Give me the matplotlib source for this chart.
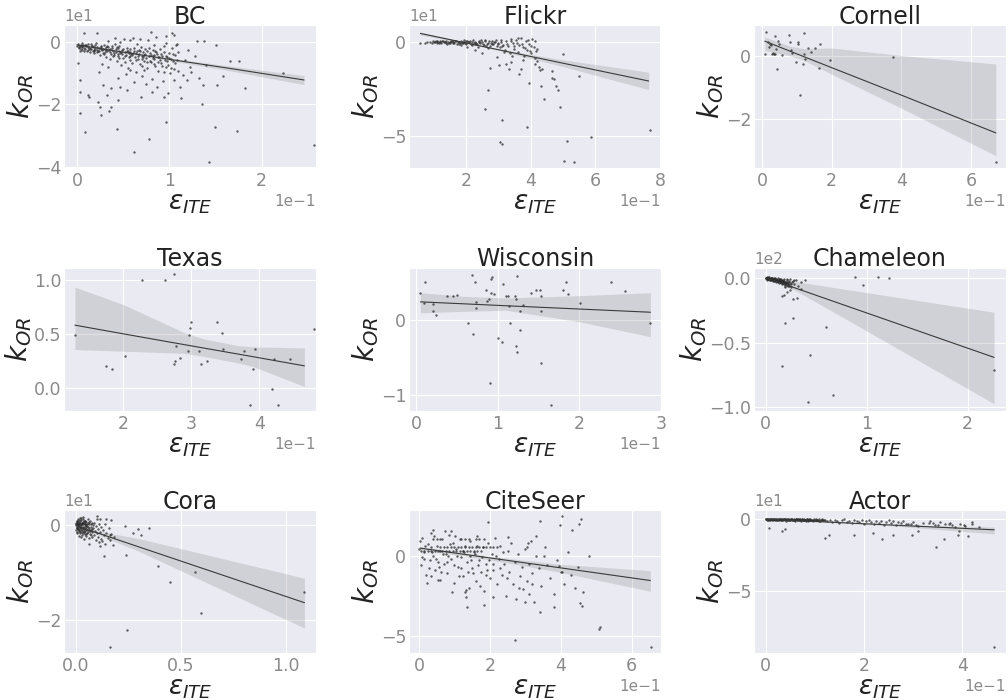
import numpy as np
import matplotlib
matplotlib.use("Agg")
import matplotlib.pyplot as plt
import seaborn as sns

sns.set_style("darkgrid")
plt.rcParams['font.family'] = ['DejaVu Sans']
plt.rcParams['mathtext.fontset'] = 'dejavusans'

names = ["BC", "Flickr", "Cornell", "Texas", "Wisconsin", "Chameleon",
         "Cora", "CiteSeer", "Actor"]

# ---- scatter points (eps_ITE, k_OR) ----
bc_pts = [
    (0.000,-1.2),(0.001,-0.6),(0.002,-2.1),(0.003,-1.5),(0.004,-0.9),(0.005,-2.6),(0.006,-1.8),(0.007,-1.1),(0.008,-3.0),(0.009,-2.2),
    (0.010,-1.4),(0.011,-2.8),(0.012,-0.8),(0.013,-1.9),(0.014,-3.3),(0.015,-2.4),(0.016,-1.2),(0.017,-2.9),(0.018,-1.7),(0.019,-3.6),
    (0.020,-2.3),(0.021,-0.5),(0.022,-1.6),(0.023,-3.1),(0.024,-2.0),(0.025,-4.2),(0.026,-1.3),(0.027,-2.7),(0.028,-3.5),(0.029,-0.9),
    (0.030,-2.2),(0.031,-4.8),(0.032,-1.8),(0.033,-3.0),(0.034,0.3),(0.035,-2.6),(0.036,-5.5),(0.037,-3.8),(0.038,-1.5),(0.039,-2.9),
    (0.040,-4.1),(0.041,-0.7),(0.042,-3.3),(0.043,-6.2),(0.044,-2.1),(0.045,-4.6),(0.046,-1.2),(0.047,-3.7),(0.048,-7.4),(0.049,-2.6),
    (0.050,-5.1),(0.051,0.8),(0.052,-3.2),(0.053,-4.3),(0.054,-1.9),(0.055,-8.3),(0.056,-3.6),(0.057,-5.8),(0.058,-2.4),(0.059,-4.0),
    (0.060,-6.7),(0.061,1.2),(0.062,-3.1),(0.063,-4.9),(0.064,-9.6),(0.065,-2.8),(0.066,-5.4),(0.067,-3.9),(0.068,-7.1),(0.069,-1.6),
    (0.070,-4.4),(0.071,-10.8),(0.072,-3.3),(0.073,-6.0),(0.074,-2.2),(0.075,-5.2),(0.076,-8.5),(0.077,0.5),(0.078,-4.7),(0.079,-3.5),
    (0.080,-6.4),(0.081,-11.9),(0.082,-2.7),(0.083,-5.6),(0.084,-4.1),(0.085,-7.8),(0.086,1.6),(0.087,-3.8),(0.088,-9.2),(0.089,-5.0),
    (0.090,-2.4),(0.091,-6.9),(0.092,-4.5),(0.093,-12.6),(0.094,-3.2),(0.095,-5.9),(0.096,-8.1),(0.097,-0.3),(0.098,-4.8),(0.099,-7.3),
    (0.100,-3.6),(0.101,-10.1),(0.102,-5.4),(0.103,-2.0),(0.104,-6.2),(0.105,-8.8),(0.106,-4.3),(0.107,-1.1),(0.108,-5.7),(0.110,-3.4),
    (0.003,-2.8),(0.006,-0.4),(0.009,-1.0),(0.012,-2.5),(0.015,-0.7),(0.018,-2.6),(0.022,-3.4),(0.026,-2.2),(0.029,-4.0),(0.033,-1.4),
    (0.036,-2.3),(0.039,-4.4),(0.043,-1.8),(0.046,-5.3),(0.049,-3.9),(0.052,-6.5),(0.055,-2.9),(0.058,-4.7),(0.061,-3.6),(0.064,-5.8),
    (0.067,-2.5),(0.070,-7.6),(0.073,-4.2),(0.076,-2.9),(0.079,-6.1),(0.082,-4.6),(0.085,-3.0),(0.088,-6.6),(0.091,-4.0),(0.094,-9.8),
    (0.044,-11.5),(0.053,-10.2),(0.062,-12.9),(0.075,-13.6),(0.058,-8.9),(0.034,-8.2),(0.027,-7.1),(0.068,0.9),(0.041,1.1),(0.096,2.0),
    (0.002,-1.6),(0.004,-2.3),(0.006,-1.3),(0.008,-2.0),(0.010,-0.9),(0.012,-1.7),(0.014,-2.2),(0.016,-1.5),(0.018,-3.1),(0.020,-1.1),
    (0.022,-2.5),(0.024,-3.0),(0.026,-1.8),(0.028,-2.4),(0.030,-3.4),(0.032,-2.7),(0.034,-1.6),(0.036,-3.2),(0.038,-2.1),(0.040,-3.6),
    (0.042,-2.4),(0.044,-4.0),(0.046,-2.9),(0.048,-3.4),(0.050,-2.2),(0.052,-4.4),(0.054,-3.1),(0.056,-5.0),(0.058,-3.3),(0.060,-4.1),
    (0.062,-2.0),(0.064,-3.7),(0.066,-4.6),(0.068,-3.0),(0.070,-5.6),(0.072,-4.8),(0.074,-3.9),(0.076,-6.5),(0.078,-2.1),(0.080,-4.3),
    (0.082,-5.1),(0.084,-7.0),(0.086,-3.4),(0.088,-4.9),(0.090,-5.8),(0.092,-7.6),(0.094,-1.5),(0.096,-4.6),(0.098,-6.0),(0.100,-5.2),
    (0.102,-8.3),(0.104,-3.9),(0.106,-6.8),(0.108,-0.8),(0.109,-9.4),(0.047,-0.2),(0.057,0.6),(0.065,-0.6),(0.083,-0.9),(0.073,-8.9),
    (0.001,-6.9),(0.003,-12.2),(0.003,-16.0),(0.003,-22.9),(0.009,-28.9),(0.012,-17.0),(0.013,-17.5),(0.023,-19.1),(0.025,-20.7),
    (0.026,-23.4),(0.028,-13.8),(0.024,-9.6),(0.035,-22.1),(0.037,-20.7),(0.043,-27.9),(0.045,-18.6),(0.062,-35.1),(0.078,-31.1),
    (0.097,-25.5),(0.113,-17.9),(0.135,-19.9),(0.137,-13.8),(0.150,-27.1),(0.143,-38.5),(0.152,-13.8),(0.173,-28.4),(0.182,-14.9),
    (0.166,-6.2),(0.176,-6.2),(0.151,-1.1),(0.138,0.3),(0.130,0.3),(0.158,-11.0),(0.223,-9.9),(0.257,-33.0),(0.105,2.1),(0.103,2.7),
    (0.080,3.2),(0.022,2.7),(0.008,2.7),(0.117,-5.9),(0.123,-8.0),(0.124,-9.6),(0.119,-12.2),(0.105,-12.2),(0.112,-14.4),(0.099,-16.5),
    (0.094,-17.6),(0.087,-14.4),(0.081,-16.0),(0.069,-17.6),(0.054,-15.4),(0.047,-14.4),(0.037,-14.9),(0.033,-17.0),(0.128,-4.5),
    (0.140,-7.5),(0.120,-2.5),(0.115,-10.5),(0.132,-11.6),
]
flickr_pts = [
    (0.100,0.2),(0.105,-0.3),(0.110,0.4),(0.115,-0.1),(0.120,0.0),(0.125,-0.5),(0.130,0.3),(0.135,-0.2),(0.140,-0.6),(0.145,0.1),
    (0.150,-0.4),(0.155,0.5),(0.160,-0.2),(0.165,-0.8),(0.170,0.2),(0.175,-0.3),(0.180,-1.0),(0.185,0.3),(0.190,-0.5),(0.195,-0.1),
    (0.200,-0.9),(0.205,0.4),(0.210,-0.3),(0.215,-1.2),(0.220,0.1),(0.225,-0.6),(0.230,-0.2),(0.235,-1.4),(0.240,0.5),(0.245,-0.7),
    (0.250,-0.1),(0.255,-1.6),(0.260,0.2),(0.265,-0.9),(0.270,-0.4),(0.275,-2.0),(0.280,0.6),(0.285,-1.1),(0.290,-0.3),(0.295,-2.4),
    (0.112,-0.8),(0.128,0.6),(0.142,-1.1),(0.158,0.2),(0.172,-1.4),(0.188,-0.4),(0.202,0.7),(0.218,-1.8),(0.232,-0.4),(0.248,0.8),
    (0.262,-2.2),(0.278,-0.8),(0.292,0.9),(0.205,-2.5),(0.185,-1.9),(0.238,-2.8),(0.268,-3.2),(0.195,0.8),(0.222,1.0),(0.258,1.2),
    (0.102,-0.1),(0.108,0.3),(0.118,-0.4),(0.122,0.5),(0.132,-0.3),(0.138,0.2),(0.148,-0.5),(0.152,0.0),(0.162,-0.6),(0.168,0.4),
    (0.178,-0.2),(0.182,-0.7),(0.192,0.1),(0.198,-0.6),(0.208,-0.2),(0.212,0.3),(0.228,-0.9),(0.242,-0.3),(0.252,-1.0),(0.272,0.3),
    (0.282,-1.4),(0.288,0.1),(0.298,-1.0),(0.308,-0.2),(0.312,-2.0),(0.328,-1.0),(0.338,0.6),(0.348,-2.4),(0.358,-0.8),(0.372,-1.0),
    (0.382,-3.5),(0.392,0.8),(0.402,-2.0),(0.412,0.3),(0.418,-5.0),(0.080,-0.2),(0.090,0.1),(0.095,-0.4),
    (0.300,-0.5),(0.305,-3.0),(0.310,1.2),(0.315,-1.5),(0.320,-4.2),(0.325,0.4),(0.330,-2.2),(0.335,-6.0),(0.340,1.6),(0.345,-0.8),
    (0.350,-3.6),(0.355,0.9),(0.360,-5.2),(0.365,-1.7),(0.370,2.0),(0.375,-2.9),(0.380,-7.4),(0.385,0.2),(0.390,-4.3),(0.395,-1.1),
    (0.400,-6.1),(0.405,1.4),(0.410,-2.6),(0.415,-8.8),(0.420,-3.8),(0.362,2.2),(0.378,-9.5),(0.398,-4.8),(0.342,-7.8),(0.318,-5.5),
    (0.060,-0.5),(0.075,-0.5),(0.500,-6.6),(0.549,-18.4),(0.275,-13.9),(0.269,-25.9),(0.259,-35.7),(0.313,-41.6),(0.306,-53.6),
    (0.313,-54.5),(0.390,-45.5),(0.395,-21.8),(0.431,-23.6),(0.441,-30.4),(0.477,-23.8),(0.485,-25.5),(0.467,-19.1),(0.472,-20.0),
    (0.466,-15.5),(0.492,-34.8),(0.503,-63.4),(0.535,-64.3),(0.513,-52.7),(0.585,-50.9),(0.767,-47.3),(0.426,-13.4),(0.428,-15.2),
    (0.436,-14.3),(0.415,-11.6),(0.420,-10.4),(0.323,-11.6),(0.338,-10.7),(0.333,-14.3),(0.369,-14.3),(0.303,-12.1),(0.297,-8.0),
    (0.364,-17.0),(0.230,-4.5),(0.250,-6.0),
]
cornell_pts = [
    (0.008,0.09),(0.012,0.78),(0.017,0.46),(0.020,0.30),(0.024,0.41),(0.027,0.35),(0.030,0.09),(0.032,0.10),(0.034,0.09),
    (0.038,0.09),(0.037,0.67),(0.041,0.25),(0.046,0.51),(0.044,-0.40),(0.050,0.41),(0.056,0.06),(0.077,0.70),(0.080,0.46),
    (0.083,0.19),(0.085,0.10),(0.097,-0.18),(0.102,0.46),(0.102,0.39),(0.109,-1.22),(0.120,0.75),(0.118,-0.24),(0.123,-0.07),
    (0.133,0.28),(0.140,0.14),(0.152,0.28),(0.164,-0.37),(0.166,0.39),(0.195,-0.13),(0.121,0.09),(0.376,-0.02),(0.671,-3.39),
]
texas_pts = [
    (0.129,0.49),(0.174,0.20),(0.184,0.175),(0.203,0.30),(0.228,1.00),(0.261,1.00),(0.274,1.05),(0.274,0.225),(0.276,0.25),
    (0.278,0.39),(0.284,0.28),(0.295,0.345),(0.297,0.49),(0.298,0.55),(0.299,0.61),(0.311,0.345),(0.314,0.225),(0.323,0.25),
    (0.338,0.61),(0.345,0.51),(0.347,0.36),(0.373,0.27),(0.377,0.345),(0.390,0.175),(0.393,0.36),(0.386,-0.155),(0.419,-0.005),
    (0.422,0.27),(0.427,-0.155),(0.445,0.27),(0.480,0.545),
]
wisconsin_pts = [
    (0.005,0.36),(0.009,0.23),(0.011,0.52),(0.020,0.22),(0.020,0.13),(0.024,0.07),(0.037,0.33),(0.045,0.33),(0.050,0.34),
    (0.063,-0.03),(0.068,0.61),(0.070,-0.18),(0.072,0.52),(0.073,0.24),(0.073,0.16),(0.086,0.40),(0.087,0.26),(0.089,0.28),
    (0.090,-0.84),(0.091,0.36),(0.091,0.55),(0.093,0.58),(0.095,0.35),(0.100,-0.24),(0.105,-0.29),(0.106,0.49),(0.110,0.33),
    (0.113,0.33),(0.114,0.19),(0.115,-0.03),(0.121,0.33),(0.122,0.28),(0.122,-0.34),(0.123,0.59),(0.124,-0.43),(0.127,-0.13),
    (0.127,0.12),(0.131,0.21),(0.140,0.37),(0.147,0.40),(0.152,0.40),(0.153,0.32),(0.153,0.12),(0.153,-0.57),(0.165,-1.13),
    (0.180,0.40),(0.183,0.52),(0.186,0.35),(0.201,0.23),(0.239,0.52),(0.256,0.39),(0.287,-0.04),
]
chameleon_pts = [
    (0.005,0.0),(0.010,-0.5),(0.015,0.3),(0.020,-0.8),(0.025,-0.2),(0.030,-1.0),(0.035,0.1),(0.040,-0.6),(0.045,-1.3),(0.050,-0.3),
    (0.055,-0.9),(0.060,-1.6),(0.065,-0.4),(0.070,-1.2),(0.075,-2.0),(0.080,-0.7),(0.085,-1.5),(0.090,-2.4),(0.095,-1.0),(0.100,-1.8),
    (0.105,-0.5),(0.110,-2.7),(0.115,-1.3),(0.120,-2.1),(0.125,-3.2),(0.130,-1.6),(0.135,-2.5),(0.140,-0.9),(0.145,-3.5),(0.150,-1.9),
    (0.155,-2.8),(0.160,-4.0),(0.165,-2.2),(0.170,-3.1),(0.175,-1.4),(0.180,-4.4),(0.185,-2.6),(0.190,-3.6),(0.195,-5.0),(0.200,-2.9),
    (0.205,-4.1),(0.210,-1.8),(0.215,-5.4),(0.220,-3.3),(0.225,-4.6),(0.230,-2.4),(0.235,-5.9),(0.240,-3.8),(0.250,-5.1),(0.260,-3.0),
    (0.012,-1.5),(0.028,0.6),(0.042,-1.9),(0.058,0.2),(0.072,-2.6),(0.088,0.0),(0.102,-3.0),(0.118,-0.2),(0.132,-3.9),(0.148,-0.6),
    (0.162,-4.8),(0.178,-1.0),(0.192,-6.2),(0.208,-0.8),(0.222,-6.6),(0.238,-1.2),(0.255,-7.2),(0.270,-2.2),(0.285,-4.5),(0.300,-1.5),
    (0.003,-0.3),(0.008,0.2),(0.018,-0.2),(0.022,-1.1),(0.033,-0.5),(0.038,0.3),(0.048,-0.9),(0.052,-1.7),(0.062,-0.9),(0.068,-0.1),
    (0.078,-1.4),(0.082,-2.2),(0.092,-1.3),(0.098,-0.3),(0.108,-1.5),(0.112,-2.0),(0.122,-2.8),(0.128,-1.1),(0.138,-1.9),(0.142,-2.9),
    (0.152,-3.3),(0.158,-2.3),(0.168,-3.8),(0.172,-2.6),(0.182,-3.0),(0.188,-4.2),(0.198,-3.5),(0.202,-4.6),(0.218,-4.0),(0.228,-5.2),
    (0.885,0.8),(1.108,0.8),(1.220,0.0),(0.961,-5.7),(0.393,-1.3),(0.354,-8.5),(0.311,-15.5),(0.269,-16.3),(0.246,-9.0),
    (0.213,-11.1),(0.180,-12.9),(0.164,-14.2),(0.197,-7.0),(0.279,-1.3),(0.190,-34.9),(0.269,-31.0),(0.597,-38.0),(0.443,-60.0),
    (0.164,-68.5),(0.672,-90.4),(0.420,-96.4),(2.262,-71.3),(0.320,-6.0),(0.350,-3.0),
]
cora_pts = [
    (0.000,0.0),(0.002,0.5),(0.004,-0.4),(0.006,0.9),(0.008,-0.8),(0.010,0.2),(0.012,-1.2),(0.014,1.2),(0.016,-0.1),(0.018,-1.6),
    (0.020,0.6),(0.022,-0.5),(0.024,1.5),(0.026,-1.0),(0.028,0.3),(0.030,-2.0),(0.032,0.8),(0.034,-0.3),(0.036,-1.4),(0.038,1.0),
    (0.040,-0.7),(0.042,0.4),(0.044,-1.8),(0.046,0.1),(0.048,-2.3),(0.050,0.7),(0.052,-0.9),(0.054,-0.2),(0.056,1.3),(0.058,-1.5),
    (0.060,0.2),(0.062,-2.6),(0.064,-0.6),(0.066,0.9),(0.068,-1.1),(0.070,-0.3),(0.072,-2.1),(0.074,0.5),(0.076,-1.3),(0.078,-0.8),
    (0.001,-1.0),(0.003,1.0),(0.005,-1.7),(0.007,0.3),(0.009,-0.2),(0.011,0.8),(0.013,-2.2),(0.015,0.5),(0.017,-0.6),(0.019,1.6),
    (0.021,-1.3),(0.023,0.0),(0.025,-2.5),(0.027,0.6),(0.029,-0.9),(0.031,1.4),(0.033,-1.6),(0.035,0.2),(0.037,-0.5),(0.039,-2.8),
    (0.041,0.9),(0.043,-1.1),(0.045,0.4),(0.047,-0.4),(0.049,-1.9),(0.003,-0.5),(0.006,-1.3),(0.011,-0.7),(0.016,0.4),(0.024,-0.3),
    (0.001,0.3),(0.004,0.6),(0.007,-0.6),(0.009,1.3),(0.012,0.1),(0.014,-0.9),(0.017,0.9),(0.019,-0.3),(0.022,1.1),(0.025,0.2),
    (0.027,-1.5),(0.030,0.5),(0.032,-0.6),(0.034,1.7),(0.037,0.6),(0.040,-1.2),(0.042,-0.2),(0.045,1.0),(0.048,-0.8),(0.051,0.3),
    (0.053,-1.7),(0.055,0.5),(0.058,-0.4),(0.061,-1.0),(0.064,0.7),(0.067,-1.9),(0.070,0.3),(0.073,-0.9),(0.077,-2.4),(0.080,0.0),
    (0.082,-0.5),(0.085,-2.0),(0.088,0.6),(0.090,-1.2),(0.093,-3.0),(0.096,-0.2),(0.098,-1.7),(0.100,1.3),(0.103,-2.4),(0.106,-0.8),
    (0.108,-3.5),(0.111,0.2),(0.114,-1.5),(0.117,-2.8),(0.120,-0.4),(0.124,-3.3),(0.128,-1.0),(0.132,-2.1),(0.136,0.4),(0.140,-3.9),
    (0.145,-1.6),(0.150,-2.6),(0.155,-0.6),(0.160,-3.1),(0.168,-1.9),(0.175,-4.2),(0.182,-2.4),
    (0.063,-3.9),(0.114,-4.3),(0.133,-6.5),(0.161,-2.1),(0.166,1.1),(0.233,-0.2),(0.237,-6.3),(0.241,-22.2),(0.161,-25.7),
    (0.272,-1.6),(0.296,-0.7),(0.309,-2.1),(0.348,-0.5),(0.391,-8.6),(0.449,-12.1),(0.565,-9.8),(0.593,-18.6),(1.087,-14.2),
    (0.114,1.4),(0.142,1.3),(0.098,2.1),
]
citeseer_pts = [
    (0.000,0.4),(0.005,-0.6),(0.010,1.1),(0.015,0.2),(0.020,-1.2),(0.025,0.7),(0.030,-0.3),(0.035,1.4),(0.040,0.0),(0.045,-0.9),
    (0.050,0.6),(0.055,-1.5),(0.060,0.3),(0.065,1.0),(0.070,-0.5),(0.075,0.1),(0.080,-1.1),(0.085,1.3),(0.090,-0.2),(0.095,0.8),
    (0.100,-1.7),(0.105,0.4),(0.110,-0.7),(0.115,1.0),(0.120,-0.1),(0.125,-1.3),(0.130,0.6),(0.135,-0.4),(0.140,-2.0),(0.145,0.9),
    (0.150,-0.8),(0.155,0.2),(0.160,-1.6),(0.165,1.2),(0.170,-0.3),(0.175,-1.0),(0.180,0.5),(0.185,-2.2),(0.190,-0.5),(0.195,0.8),
    (0.200,-1.4),(0.205,0.1),(0.210,-0.9),(0.215,1.1),(0.220,-1.8),(0.225,-0.2),(0.230,0.6),(0.235,-1.2),(0.240,-0.5),(0.245,-2.5),
    (0.003,0.9),(0.013,-0.2),(0.023,-1.7),(0.033,0.5),(0.043,1.2),(0.053,-0.4),(0.063,-1.0),(0.073,1.5),(0.083,0.0),(0.093,-2.3),
    (0.103,1.2),(0.113,-1.3),(0.123,0.3),(0.133,-2.6),(0.143,0.0),(0.153,-1.1),(0.163,0.6),(0.173,-1.9),(0.183,1.0),(0.193,-0.9),
    (0.008,-0.1),(0.018,0.6),(0.028,-0.8),(0.038,0.2),(0.048,-0.2),(0.058,-0.7),(0.068,0.1),(0.078,-0.4),(0.088,0.7),(0.098,-0.6),
    (0.108,0.0),(0.118,-0.8),(0.128,0.2),(0.138,-1.0),(0.148,-0.3),(0.158,0.1),(0.168,-0.6),(0.178,-0.1),(0.188,-1.2),(0.198,-0.3),
    (0.208,-0.5),(0.218,0.0),(0.228,-0.8),(0.238,0.2),(0.248,-1.4),
    (0.060,0.52),(0.070,0.52),(0.080,0.52),(0.090,0.52),(0.100,0.52),(0.110,0.52),(0.120,0.52),(0.130,0.52),(0.140,0.52),
    (0.150,0.52),(0.160,0.52),(0.170,0.52),(0.180,0.52),(0.190,0.52),(0.200,0.52),(0.210,0.52),(0.220,0.52),
    (0.005,0.31),(0.015,0.31),(0.025,0.31),(0.035,0.31),(0.045,0.31),(0.055,0.31),(0.065,0.31),(0.075,0.31),(0.085,0.31),
    (0.095,0.31),(0.105,0.31),(0.115,0.31),(0.125,0.31),(0.135,0.31),(0.145,0.31),(0.155,0.31),(0.165,0.31),(0.175,0.31),
    (0.040,1.0),(0.050,1.0),(0.060,1.0),(0.120,1.0),(0.130,1.0),(0.140,1.0),(0.160,1.0),(0.170,1.0),
    (0.250,0.3),(0.255,-1.0),(0.260,0.8),(0.265,-1.8),(0.270,-0.4),(0.275,-2.7),(0.280,0.1),(0.285,-1.3),(0.290,-0.7),(0.295,-2.1),
    (0.300,0.4),(0.305,-1.6),(0.310,-0.5),(0.315,0.9),(0.320,-1.1),(0.325,-2.9),(0.330,0.0),(0.340,-0.8),(0.345,-1.9),(0.355,0.5),
    (0.360,-0.6),(0.370,-1.4),(0.380,-2.4),(0.390,-0.3),(0.400,-1.0),(0.410,-1.8),(0.420,0.2),(0.430,-1.2),(0.440,-2.0),(0.450,-0.7),
    (0.129,-2.25),(0.132,-2.12),(0.137,-3.19),(0.184,-3.08),(0.196,2.08),(0.209,-2.6),(0.271,-5.27),(0.281,-2.04),(0.300,-2.92),
    (0.311,-2.4),(0.318,-1.77),(0.330,1.21),(0.341,2.15),(0.341,-3.54),(0.353,0.0),(0.382,-3.23),(0.398,1.88),(0.405,2.46),
    (0.396,-0.67),(0.405,-1.04),(0.433,1.56),(0.451,1.98),(0.457,2.25),(0.455,-2.96),(0.460,-3.13),(0.462,-2.29),(0.479,-0.04),
    (0.507,-4.58),(0.512,-4.48),(0.655,-5.69),(0.309,0.79),(0.306,0.52),(0.250,1.15),(0.040,1.6),(0.090,1.55),(0.035,-1.3),
    (0.060,-1.5),
]
actor_pts = [
    (0.000,-0.2),(0.003,-0.6),(0.006,-0.1),(0.009,-0.8),(0.012,-0.3),(0.015,-0.5),(0.018,0.0),(0.021,-0.7),(0.024,-0.2),(0.027,-0.9),
    (0.030,-0.4),(0.033,-0.1),(0.036,-0.6),(0.039,-1.0),(0.042,-0.3),(0.045,-0.7),(0.048,0.1),(0.051,-0.5),(0.054,-1.1),(0.057,-0.2),
    (0.060,-0.8),(0.063,-0.4),(0.066,-1.2),(0.069,-0.1),(0.072,-0.6),(0.075,-0.9),(0.078,-0.3),(0.081,-1.3),(0.084,-0.5),(0.087,-0.2),
    (0.090,-1.0),(0.093,-0.6),(0.096,-1.4),(0.099,-0.3),(0.102,-0.8),(0.105,-1.1),(0.108,-0.4),(0.111,-1.5),(0.114,-0.7),(0.117,-1.2),
    (0.002,-0.4),(0.005,-0.9),(0.008,-0.3),(0.011,-0.1),(0.014,-1.0),(0.017,-0.4),(0.020,-0.2),(0.023,-1.2),(0.026,-0.5),(0.029,0.0),
    (0.032,-0.8),(0.035,-0.3),(0.038,-0.5),(0.041,-1.3),(0.044,-0.2),(0.047,-0.6),(0.050,-0.9),(0.053,-0.1),(0.056,-0.7),(0.059,-1.4),
    (0.062,-0.3),(0.065,-0.5),(0.068,-0.9),(0.071,-1.6),(0.074,-0.2),(0.077,-0.7),(0.080,-1.0),(0.083,-0.4),(0.086,-1.7),(0.089,-0.6),
    (0.001,-0.5),(0.004,-0.2),(0.007,-0.7),(0.010,-0.4),(0.013,-0.6),(0.016,-0.2),(0.019,-0.9),(0.022,-0.4),(0.025,-0.7),(0.028,-0.3),
    (0.031,-0.6),(0.034,-0.9),(0.037,-0.2),(0.040,-0.5),(0.043,-0.8),(0.046,-0.4),(0.049,-1.0),(0.052,-0.3),(0.055,-0.6),(0.058,-0.9),
    (0.061,-0.5),(0.064,-0.8),(0.067,-0.3),(0.070,-1.0),(0.073,-0.5),(0.076,-0.8),(0.079,-1.1),(0.082,-0.6),(0.085,-0.9),(0.088,-1.2),
    (0.091,-0.4),(0.094,-0.9),(0.097,-0.7),(0.100,-1.2),(0.103,-0.5),(0.106,-0.9),(0.109,-1.3),(0.112,-0.9),(0.115,-0.4),(0.118,-1.0),
    (0.120,-0.6),(0.125,-1.8),(0.130,-1.0),(0.135,-2.4),(0.140,-0.8),(0.145,-1.5),(0.150,-2.8),(0.155,-1.2),(0.160,-0.5),(0.165,-2.0),
    (0.170,-1.4),(0.175,-3.1),(0.180,-0.9),(0.185,-1.9),(0.190,-2.6),(0.195,-1.1),(0.200,-3.4),(0.205,-1.6),(0.210,-0.7),(0.215,-2.3),
    (0.220,-3.8),(0.225,-1.3),(0.230,-2.7),(0.235,-1.8),(0.240,-4.2),(0.245,-2.1),(0.250,-0.9),(0.255,-3.0),(0.260,-1.6),(0.265,-4.6),
    (0.270,-2.4),(0.275,-3.3),(0.280,-1.4),
    (0.290,-3.6),(0.300,-2.0),(0.310,-5.2),(0.320,-3.0),(0.335,-1.8),(0.345,-4.4),(0.355,-2.6),(0.365,-3.6),(0.375,-3.2),
    (0.385,-5.6),(0.395,-4.0),(0.405,-4.8),(0.420,-3.4),(0.435,-5.8),
    (0.007,-6.5),(0.034,-8.8),(0.039,-7.4),(0.120,-13.5),(0.128,-11.6),(0.179,-11.2),(0.219,-10.0),(0.237,-14.4),(0.260,-11.2),
    (0.298,-11.2),(0.310,-8.4),(0.346,-20.0),(0.363,-14.4),(0.393,-8.6),(0.391,-11.6),(0.411,-12.1),(0.465,-89.0),(0.286,-3.4),
    (0.295,-3.4),(0.306,-4.2),(0.333,-3.0),(0.340,-3.0),(0.350,-4.2),(0.373,-3.4),(0.380,-4.2),(0.404,-4.6),(0.420,-2.3),
]

# ---- regression line and its confidence band ----
fit_x = {
    "BC": [0.0, 0.05, 0.10, 0.17, 0.246],
    "Flickr": [0.06, 0.2, 0.3, 0.5, 0.764],
    "Cornell": [0.008, 0.08, 0.12, 0.2, 0.4, 0.671],
    "Texas": [0.129, 0.2, 0.29, 0.32, 0.37, 0.39, 0.466],
    "Wisconsin": [0.005, 0.06, 0.11, 0.2, 0.287],
    "Chameleon": [0.007, 0.1, 0.3, 1.0, 2.262],
    "Cora": [0.003, 0.1, 0.3, 0.6, 1.087],
    "CiteSeer": [0.003, 0.2, 0.4, 0.653],
    "Actor": [0.0, 0.1, 0.25, 0.465],
}
fit_y = {
    "BC": [-1.0, -3.3, -5.6, -8.7, -12.2],
    "Flickr": [4.5, -0.55, -4.16, -11.4, -20.9],
    "Cornell": [0.49, 0.17, -0.007, -0.36, -1.24, -2.45],
    "Texas": [0.58, 0.50, 0.40, 0.367, 0.312, 0.29, 0.205],
    "Wisconsin": [0.247, 0.22, 0.195, 0.151, 0.108],
    "Chameleon": [0.0, -2.5, -8.0, -27.1, -61.5],
    "Cora": [-0.1, -1.56, -4.57, -9.08, -16.4],
    "CiteSeer": [0.46, -0.15, -0.77, -1.56],
    "Actor": [-0.3, -1.9, -4.3, -7.7],
}
fit_lo = {
    "BC": [-1.5, -3.6, -6.0, -9.5, -13.7],
    "Flickr": [3.7, -0.9, -4.6, -13.2, -25.5],
    "Cornell": [0.19, 0.02, -0.12, -0.57, -1.66, -3.18],
    "Texas": [0.355, 0.34, 0.32, 0.29, 0.23, 0.20, 0.015],
    "Wisconsin": [0.10, 0.12, 0.135, -0.02, -0.22],
    "Chameleon": [-1.0, -3.0, -10.0, -41.0, -97.4],
    "Cora": [-0.4, -1.9, -5.5, -11.7, -21.8],
    "CiteSeer": [0.36, -0.27, -1.05, -2.23],
    "Actor": [-0.5, -2.1, -4.8, -10.5],
}
fit_hi = {
    "BC": [-0.5, -3.0, -5.2, -7.9, -10.8],
    "Flickr": [5.3, -0.2, -3.7, -9.6, -16.2],
    "Cornell": [0.62, 0.33, 0.25, 0.27, 0.03, -0.24],
    "Texas": [0.93, 0.77, 0.51, 0.45, 0.39, 0.38, 0.37],
    "Wisconsin": [0.37, 0.32, 0.30, 0.33, 0.37],
    "Chameleon": [1.0, -0.8, -2.9, -11.4, -26.6],
    "Cora": [0.2, -1.2, -2.8, -6.0, -11.2],
    "CiteSeer": [0.56, -0.05, -0.55, -0.94],
    "Actor": [-0.1, -1.7, -3.9, -5.8],
}

points = {"BC": bc_pts, "Flickr": flickr_pts, "Cornell": cornell_pts,
          "Texas": texas_pts, "Wisconsin": wisconsin_pts, "Chameleon": chameleon_pts,
          "Cora": cora_pts, "CiteSeer": citeseer_pts, "Actor": actor_pts}

# tick positions shown in the figure
xticks = {"BC": [0, 0.1, 0.2], "Flickr": [0.2, 0.4, 0.6, 0.8], "Cornell": [0, 0.2, 0.4, 0.6],
          "Texas": [0.2, 0.3, 0.4], "Wisconsin": [0, 0.1, 0.2, 0.3], "Chameleon": [0, 1, 2],
          "Cora": [0, 0.5, 1.0], "CiteSeer": [0, 0.2, 0.4, 0.6], "Actor": [0, 0.2, 0.4]}
yticks = {"BC": [-40, -20, 0], "Flickr": [-50, 0], "Cornell": [-2, 0],
          "Texas": [0, 0.5, 1.0], "Wisconsin": [-1, 0], "Chameleon": [-100, -50, 0],
          "Cora": [-20, 0], "CiteSeer": [-5, 0], "Actor": [-50, 0]}

# axis limits as seen in the figure
xlims = {"BC": (-0.014, 0.259), "Flickr": (0.025, 0.802), "Cornell": (-0.023, 0.70),
         "Texas": (0.113, 0.483), "Wisconsin": (-0.009, 0.300), "Chameleon": (-0.115, 2.38),
         "Cora": (-0.057, 1.142), "CiteSeer": (-0.028, 0.683), "Actor": (-0.024, 0.489)}
ylims = {"BC": (-40.3, 5.3), "Flickr": (-67.3, 8.9), "Cornell": (-3.57, 1.0),
         "Texas": (-0.206, 1.108), "Wisconsin": (-1.21, 0.704), "Chameleon": (-102.6, 7.8),
         "Cora": (-27.1, 3.19), "CiteSeer": (-6.08, 2.81), "Actor": (-93.5, 5.8)}

fig, axes = plt.subplots(3, 3, figsize=(10.08, 7), dpi=100)
fig.subplots_adjust(left=0.0635, right=0.998, top=0.964, bottom=0.067,
                    wspace=0.369, hspace=0.70)

gray = "#8a8a8a"
for ax, name in zip(axes.flat, names):
    pts = np.array(points[name])
    ax.scatter(pts[:, 0], pts[:, 1], s=3, color="#2b2b2b", alpha=0.75,
               linewidths=0, zorder=3)
    ax.fill_between(fit_x[name], fit_lo[name], fit_hi[name], color="#777777",
                    alpha=0.22, linewidth=0, zorder=2)
    ax.plot(fit_x[name], fit_y[name], color="#3a3a3a", lw=0.8, zorder=4)
    ax.set_xticks(xticks[name])
    ax.set_yticks(yticks[name])
    ax.set_xlim(xlims[name])
    ax.set_ylim(ylims[name])
    ax.ticklabel_format(style="sci", scilimits=(0, 0), axis="both")
    ax.tick_params(length=0, labelsize=12.5, labelcolor=gray)
    ax.tick_params(axis="y", pad=2)
    ax.tick_params(axis="x", pad=3)
    for off in (ax.xaxis.get_offset_text(), ax.yaxis.get_offset_text()):
        off.set_fontsize(11)
        off.set_color(gray)
    ax.set_title(name, fontsize=17, pad=1, color="#222222")
    ax.set_xlabel(r"$\varepsilon_{ITE}$", fontsize=19, labelpad=0, color="#222222")
    ax.set_ylabel(r"$k_{OR}$", fontsize=20, labelpad=0, color="#222222")

fig.savefig("out.png", dpi=100)
